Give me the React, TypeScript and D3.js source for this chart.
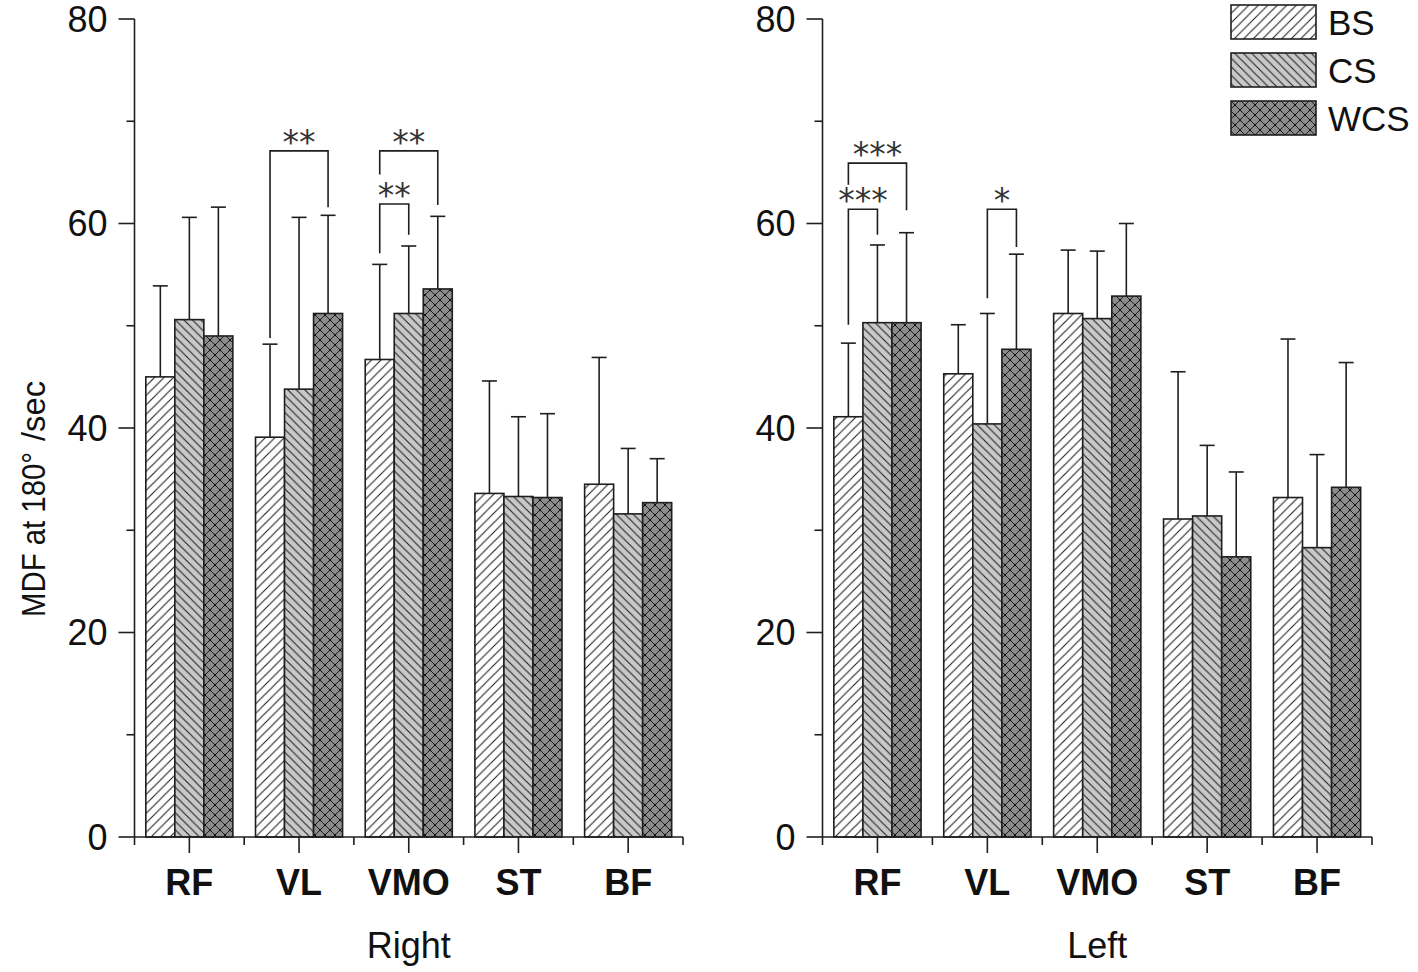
import React from "react";
import * as d3 from "d3";

const categories = ["RF", "VL", "VMO", "ST", "BF"];
const seriesNames = ["BS", "CS", "WCS"];

// Right side (left panel): means and mean+SD
const rightBS = [45.0, 39.1, 46.7, 33.6, 34.5];
const rightBSTop = [53.9, 48.2, 56.0, 44.6, 46.9];
const rightCS = [50.6, 43.8, 51.2, 33.3, 31.6];
const rightCSTop = [60.6, 60.6, 57.8, 41.1, 38.0];
const rightWCS = [49.0, 51.2, 53.6, 33.2, 32.7];
const rightWCSTop = [61.6, 60.8, 60.7, 41.4, 37.0];

// Left side (right panel)
const leftBS = [41.1, 45.3, 51.2, 31.1, 33.2];
const leftBSTop = [48.3, 50.1, 57.4, 45.5, 48.7];
const leftCS = [50.3, 40.4, 50.7, 31.4, 28.3];
const leftCSTop = [57.9, 51.2, 57.3, 38.3, 37.4];
const leftWCS = [50.3, 47.7, 52.9, 27.4, 34.2];
const leftWCSTop = [59.1, 57.0, 60.0, 35.7, 46.4];

const yTicksMajor = [0, 20, 40, 60, 80];
const yTicksMinor = [10, 30, 50, 70];

// significance brackets: category, from series, to series, bar level, left leg end, right leg end, label
const rightBrackets = [
  { cat: "VL", a: "BS", b: "WCS", level: 67.1, legA: 48.8, legB: 61.6, label: "**" },
  { cat: "VMO", a: "BS", b: "WCS", level: 67.1, legA: 64.8, legB: 61.8, label: "**" },
  { cat: "VMO", a: "BS", b: "CS", level: 61.9, legA: 57.1, legB: 58.9, label: "**" },
];
const leftBrackets = [
  { cat: "RF", a: "BS", b: "WCS", level: 65.9, legA: 63.8, legB: 61.3, label: "***" },
  { cat: "RF", a: "BS", b: "CS", level: 61.4, legA: 50.1, legB: 58.9, label: "***" },
  { cat: "VL", a: "CS", b: "WCS", level: 61.4, legA: 52.7, legB: 57.7, label: "*" },
];

const panels = [
  {
    title: "Right",
    x0: 134.5,
    x1: 683,
    means: [rightBS, rightCS, rightWCS],
    tops: [rightBSTop, rightCSTop, rightWCSTop],
    brackets: rightBrackets,
  },
  {
    title: "Left",
    x0: 822.5,
    x1: 1372,
    means: [leftBS, leftCS, leftWCS],
    tops: [leftBSTop, leftCSTop, leftWCSTop],
    brackets: leftBrackets,
  },
];

const FONT = "'Liberation Sans', Arial, sans-serif";
const INK = "#1e1e1e";
const fills = ["url(#patBS)", "url(#patCS)", "url(#patWCS)"];

const y = d3.scaleLinear().domain([0, 80]).range([837, 19]);

function Panel({ p }: { p: any }) {
  const x = d3.scaleBand<string>().domain(categories).range([p.x0, p.x1]).paddingInner(0).paddingOuter(0);
  const bw = x.bandwidth();
  const xs = d3.scaleBand<string>().domain(seriesNames).range([0, bw]).paddingInner(0).paddingOuter(0.39);
  const barW = xs.bandwidth();
  const capW = 15;
  const center = (cat: string, s: string) => (x(cat) as number) + (xs(s) as number) + barW / 2;
  return (
    <g>
      {/* bars */}
      {seriesNames.map((s, si) =>
        categories.map((c, ci) => {
          const v = p.means[si][ci];
          const bx = (x(c) as number) + (xs(s) as number);
          return (
            <rect
              key={s + c}
              x={bx}
              y={y(v)}
              width={barW}
              height={y(0) - y(v)}
              fill={fills[si]}
              stroke={INK}
              strokeWidth={1.6}
            />
          );
        })
      )}
      {/* error bars */}
      {seriesNames.map((s, si) =>
        categories.map((c, ci) => {
          const cx = center(c, s);
          const v = p.means[si][ci];
          const t = p.tops[si][ci];
          return (
            <g key={"e" + s + c} stroke={INK} strokeWidth={1.6}>
              <line x1={cx} x2={cx} y1={y(v)} y2={y(t)} />
              <line x1={cx - capW / 2} x2={cx + capW / 2} y1={y(t)} y2={y(t)} />
            </g>
          );
        })
      )}
      {/* brackets */}
      {p.brackets.map((b: any, i: number) => {
        const xa = center(b.cat, b.a);
        const xb = center(b.cat, b.b);
        return (
          <g key={"b" + i}>
            <path
              d={`M${xa},${y(b.legA)} V${y(b.level)} H${xb} V${y(b.legB)}`}
              fill="none"
              stroke={INK}
              strokeWidth={1.6}
            />
            <text
              x={(xa + xb) / 2}
              y={y(b.level) + 3}
              textAnchor="middle"
              fontFamily="'DejaVu Sans', sans-serif"
              fontSize={33}
              fill="#333"
            >
              {b.label}
            </text>
          </g>
        );
      })}
      {/* y axis */}
      <line x1={p.x0} x2={p.x0} y1={y(0)} y2={y(80)} stroke={INK} strokeWidth={1.6} />
      {yTicksMajor.map((t) => (
        <g key={"ym" + t}>
          <line x1={p.x0 - 16} x2={p.x0} y1={y(t)} y2={y(t)} stroke={INK} strokeWidth={1.6} />
          <text
            x={p.x0 - 27}
            y={y(t)}
            dy="0.36em"
            textAnchor="end"
            fontFamily={FONT}
            fontSize={36}
            fill="#111"
          >
            {t}
          </text>
        </g>
      ))}
      {yTicksMinor.map((t) => (
        <line key={"yn" + t} x1={p.x0 - 8} x2={p.x0} y1={y(t)} y2={y(t)} stroke={INK} strokeWidth={1.6} />
      ))}
      {/* x axis */}
      <line x1={p.x0} x2={p.x1} y1={y(0)} y2={y(0)} stroke={INK} strokeWidth={1.6} />
      {categories.map((c) => {
        const cx = (x(c) as number) + bw / 2;
        return (
          <g key={"xc" + c}>
            <line x1={cx} x2={cx} y1={y(0)} y2={y(0) + 16} stroke={INK} strokeWidth={1.6} />
            <text
              x={cx}
              y={895}
              textAnchor="middle"
              fontFamily={FONT}
              fontWeight="bold"
              fontSize={36}
              fill="#111"
            >
              {c}
            </text>
          </g>
        );
      })}
      {categories.concat(["end"]).map((c, i) => {
        const bx = p.x0 + i * bw;
        return <line key={"xn" + i} x1={bx} x2={bx} y1={y(0)} y2={y(0) + 8} stroke={INK} strokeWidth={1.6} />;
      })}
      <text
        x={(p.x0 + p.x1) / 2}
        y={958}
        textAnchor="middle"
        fontFamily={FONT}
        fontSize={36}
        fill="#111"
      >
        {p.title}
      </text>
    </g>
  );
}

export default function App() {
  const legendY = [5, 53, 101];
  return (
    <svg
      width={1418}
      height={972}
      style={{ position: "absolute", left: 0, top: 0, background: "#fff" }}
    >
      <defs>
        <pattern id="patBS" patternUnits="userSpaceOnUse" width={9.5} height={9.5}>
          <rect width={9.5} height={9.5} fill="#fff" />
          <path d="M0,9.5 L9.5,0 M-2.4,2.4 L2.4,-2.4 M7.1,11.9 L11.9,7.1" stroke="#222" strokeWidth={1.1} />
        </pattern>
        <pattern id="patCS" patternUnits="userSpaceOnUse" width={8.5} height={8.5}>
          <rect width={8.5} height={8.5} fill="#c8c8c8" />
          <path d="M0,0 L8.5,8.5 M-2.2,6.3 L2.2,10.7 M6.3,-2.2 L10.7,2.2" stroke="#222" strokeWidth={1.1} />
        </pattern>
        <pattern id="patWCS" patternUnits="userSpaceOnUse" width={10} height={10}>
          <rect width={10} height={10} fill="#8c8c8c" />
          <path
            d="M0,0 L10,10 M-2.5,7.5 L2.5,12.5 M7.5,-2.5 L12.5,2.5 M0,10 L10,0 M-2.5,2.5 L2.5,-2.5 M7.5,12.5 L12.5,7.5"
            stroke="#222"
            strokeWidth={1}
          />
          <circle cx={5} cy={5} r={1.2} fill="#111" />
          <circle cx={0} cy={0} r={1.2} fill="#111" />
          <circle cx={10} cy={0} r={1.2} fill="#111" />
          <circle cx={0} cy={10} r={1.2} fill="#111" />
          <circle cx={10} cy={10} r={1.2} fill="#111" />
        </pattern>
      </defs>
      {panels.map((p) => (
        <Panel key={p.title} p={p} />
      ))}
      {/* y label */}
      <text
        transform="translate(45,617) rotate(-90)"
        fontFamily={FONT}
        fontSize={34}
        fill="#111"
      >
        <tspan textLength={165} lengthAdjust="spacingAndGlyphs">MDF at 180°</tspan>
        <tspan x={176} textLength={60} lengthAdjust="spacingAndGlyphs">/sec</tspan>
      </text>
      {/* legend */}
      {seriesNames.map((s, i) => (
        <g key={"lg" + s}>
          <rect x={1231} y={legendY[i]} width={85} height={34} fill={fills[i]} stroke={INK} strokeWidth={1.6} />
          <text x={1328} y={legendY[i] + 17} dy="0.36em" fontFamily={FONT} fontSize={35} fill="#111">
            {s}
          </text>
        </g>
      ))}
    </svg>
  );
}
